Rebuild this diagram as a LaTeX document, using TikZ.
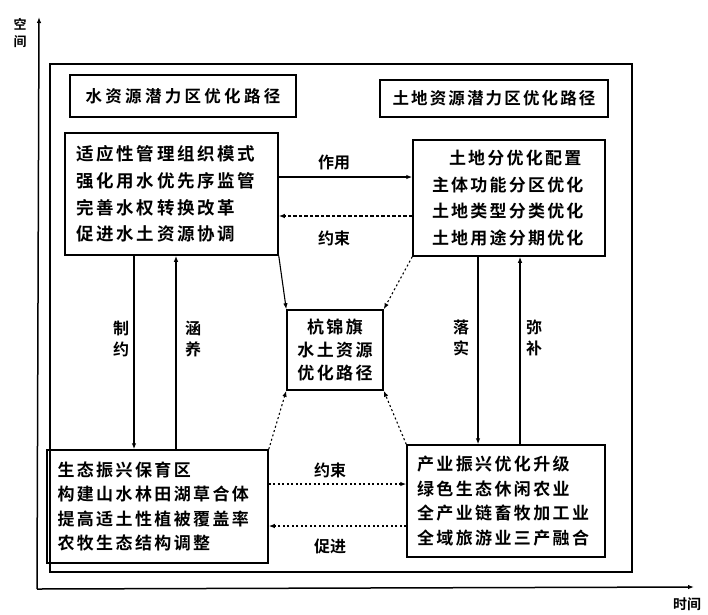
\documentclass[tikz,border=0pt]{standalone}
\usepackage{fontspec}
\setmainfont{Noto Sans CJK SC}[BoldFont={Noto Sans CJK SC Bold}]
\usetikzlibrary{arrows.meta}
\begin{document}
\begin{tikzpicture}[x=1pt,y=-1pt,
  every node/.append style={font=\bfseries},
  box/.style={draw, line width=1.5pt, inner sep=0pt, align=left},
  arr/.style={line width=1.1pt, -{Latex[length=6pt,width=4.5pt]}},
  dsh/.style={dash pattern=on 3.5pt off 2pt},
  dot/.style={dash pattern=on 2pt off 2.5pt},
  lab/.style={font=\bfseries\fontsize{16}{21}\selectfont, inner sep=0pt},
  vlab/.style={lab, align=center},
  txtA/.style={font=\bfseries\fontsize{17.5}{26.7}\selectfont\addfontfeature{LetterSpace=15}},
  txtB/.style={font=\bfseries\fontsize{17}{26.5}\selectfont\addfontfeature{LetterSpace=13}},
  txtC/.style={font=\bfseries\fontsize{17}{24.5}\selectfont\addfontfeature{LetterSpace=14}},
  ttl/.style={draw, line width=1.5pt, inner sep=0pt}
]
\useasboundingbox (0,0) rectangle (708,614);

% axes
\coordinate (O) at (37,589);
\coordinate (ytip) at (39,17);
\coordinate (xtip) at (694,587);
\draw[line width=1.5pt, -{Latex[length=6pt,width=4.5pt]}] (O) -- (ytip);
\draw[line width=1.5pt, -{Latex[length=6pt,width=4.5pt]}] (O) -- (xtip);
\node[lab, align=center, font=\bfseries\fontsize{13}{17}\selectfont] (ylab) at (20,33) {空\\间};
\node[lab, font=\bfseries\fontsize{14}{17}\selectfont] (xlab) at (687,604) {时间};

% frame
\draw[line width=1.5pt] (50,64) rectangle (632,572);

% titles
\node[ttl, minimum width=226pt, minimum height=42pt, font=\bfseries\fontsize{16.5}{20}\selectfont\addfontfeature{LetterSpace=20}] (lt) at (183,96) {水资源潜力区优化路径};
\node[ttl, minimum width=228pt, minimum height=37pt, font=\bfseries\fontsize{16.5}{20}\selectfont\addfontfeature{LetterSpace=13}] (rt) at (494,98.5) {土地资源潜力区优化路径};

% boxes
\node[box, txtA, minimum width=213pt, minimum height=122pt, text width=190pt] (tl) at (171.5,194)
  {适应性管理组织模式\\强化用水优先序监管\\完善水权转换改革\\促进水土资源协调};
\node[box, txtB, minimum width=192pt, minimum height=116pt, text width=154pt] (tr) at (509,198)
  {\phantom{土}土地分优化配置\\主体功能分区优化\\土地类型分类优化\\土地用途分期优化};
\node[box, align=center, font=\bfseries\fontsize{17}{23}\selectfont\addfontfeature{LetterSpace=14}, minimum width=96pt, minimum height=80pt] (c) at (335,350)
  {杭锦旗\\水土资源\\优化路径};
\node[box, txtC, minimum width=221pt, minimum height=113pt, text width=200pt] (bl) at (157.5,506.5)
  {生态振兴保育区\\构建山水林田湖草合体\\提高适土性植被覆盖率\\农牧生态结构调整};
\node[box, txtC, minimum width=198pt, minimum height=112pt, text width=178pt] (br) at (506,501)
  {产业振兴优化升级\\绿色生态休闲农业\\全产业链畜牧加工业\\全域旅游业三产融合};

% helper coordinates
\coordinate (ya) at (0,177);
\coordinate (yb) at (0,216);
\coordinate (yc) at (0,484);
\coordinate (yd) at (0,526);
\coordinate (xa) at (134,0);
\coordinate (xb) at (176,0);
\coordinate (xc) at (478,0);
\coordinate (xd) at (520,0);

% horizontal connectors
\draw[arr] (tl.east |- ya) -- (tr.west |- ya);
\draw[arr, dsh] (tr.west |- yb) -- (tl.east |- yb);
\draw[arr, dot] (bl.east |- yc) -- (br.west |- yc);
\draw[arr, dot] (br.west |- yd) -- (bl.east |- yd);
\node[lab] (l1) at (334,162) {作用};
\node[lab] (l2) at (334,238) {约束};
\node[lab] (l3) at (330,470) {约束};
\node[lab] (l4) at (330,546) {促进};

% vertical connectors
\draw[arr] (tl.south -| xa) -- (bl.north -| xa);
\draw[arr] (bl.north -| xb) -- (tl.south -| xb);
\draw[arr] (tr.south -| xc) -- (br.north -| xc);
\draw[arr] (br.north -| xd) -- (tr.south -| xd);
\node[vlab] (v1) at (121,339) {制\\约};
\node[vlab] (v2) at (193,339) {涵\\养};
\node[vlab] (v3) at (461,338) {落\\实};
\node[vlab] (v4) at (534,338) {弥\\补};

% diagonal connectors to centre
\draw[arr] (tl.south east) -- (c.north west);
\draw[arr, dot] (tr.south west) -- (c.north east);
\draw[arr, dot] (bl.north east) -- (c.south west);
\draw[arr, dot] (br.north west) -- (c.south east);
\end{tikzpicture}
\end{document}
